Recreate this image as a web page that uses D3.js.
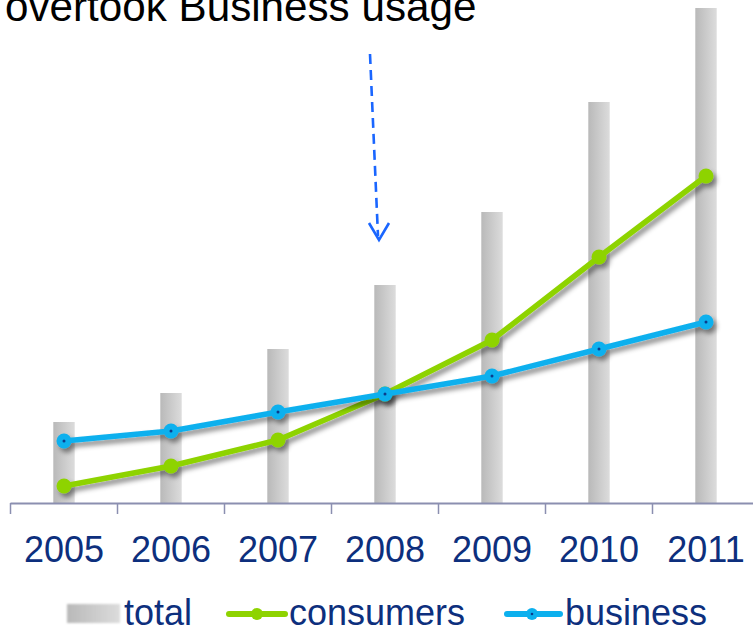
<!DOCTYPE html>
<html>
<head>
<meta charset="utf-8">
<script src="https://cdn.jsdelivr.net/npm/d3@7"></script>
<style>
  html, body { margin: 0; padding: 0; background: #fff; }
  svg { display: block; font-family: "Liberation Sans", Arial, sans-serif; }
</style>
</head>
<body>
<script>
const years = ["2005", "2006", "2007", "2008", "2009", "2010", "2011"];
const total = [81, 110, 154, 218, 291, 401, 495];
const consumers = [17, 37, 63, 109, 163, 246, 327];
const business = [62, 72, 91, 109, 127, 154, 181];
const titleText = "overtook Business usage";
const legendLabels = ["total", "consumers", "business"];

const W = 753, H = 629;
const svg = d3.select("body").append("svg").attr("width", W).attr("height", H);
const defs = svg.append("defs");

const gBar = defs.append("linearGradient").attr("id", "barGrad").attr("x1", "0%").attr("x2", "100%");
gBar.append("stop").attr("offset", "0%").attr("stop-color", "#b9b9b9");
gBar.append("stop").attr("offset", "100%").attr("stop-color", "#dcdcdc");

const shadow = defs.append("filter").attr("id", "shadow")
  .attr("x", "-10%").attr("y", "-10%").attr("width", "130%").attr("height", "140%");
shadow.append("feDropShadow").attr("dx", 3).attr("dy", 4).attr("stdDeviation", 2.5)
  .attr("flood-color", "#000").attr("flood-opacity", 0.45);

const blur = defs.append("filter").attr("id", "soft");
blur.append("feGaussianBlur").attr("stdDeviation", 1);

const x = d3.scaleBand().domain(years).range([10.5, 759.5]).paddingInner(0.8).paddingOuter(0.4);
const step = x.step();
const cx = d => x(d) + x.bandwidth() / 2;
const y = d3.scaleLinear().domain([0, 500]).range([503, 3]);

// title
svg.append("text").attr("x", 5).attr("y", 21).attr("font-size", 42.2).attr("fill", "#000").text(titleText);

// bars
svg.append("g").selectAll("rect").data(years).join("rect")
  .attr("x", d => x(d)).attr("width", x.bandwidth())
  .attr("y", (d, i) => y(total[i])).attr("height", (d, i) => y(0) - y(total[i]))
  .attr("fill", "url(#barGrad)");

// axis
const axisColor = "#8b8fb0";
const axis = svg.append("g");
axis.append("line").attr("x1", x.range()[0]).attr("x2", W).attr("y1", y(0) + 0.5).attr("y2", y(0) + 0.5)
  .attr("stroke", axisColor).attr("stroke-width", 2);
axis.selectAll("line.tick").data(years).join("line").attr("class", "tick")
  .attr("x1", d => cx(d) - step / 2).attr("x2", d => cx(d) - step / 2)
  .attr("y1", y(0)).attr("y2", y(0) + 11)
  .attr("stroke", axisColor).attr("stroke-width", 1.5);
axis.selectAll("text").data(years).join("text")
  .attr("x", d => cx(d)).attr("y", 562).attr("text-anchor", "middle")
  .attr("font-size", 36).attr("fill", "#0d2f7d").text(d => d);

// arrow annotation
const arrowColor = "#1a66ff";
svg.append("line").attr("x1", 370).attr("y1", 54).attr("x2", 378).attr("y2", 236)
  .attr("stroke", arrowColor).attr("stroke-width", 2.6).attr("stroke-dasharray", "10,6");
svg.append("path").attr("d", "M369,223 L379,240 L389,223")
  .attr("fill", "none").attr("stroke", arrowColor).attr("stroke-width", 2.6);

// lines
const green = "#8ed300", blue = "#0cb0ee";
function drawSeries(vals, color, dot) {
  const g = svg.append("g").attr("filter", "url(#shadow)");
  const line = d3.line().x((d, i) => cx(years[i])).y(d => y(d));
  g.append("path").datum(vals).attr("d", line).attr("fill", "none")
    .attr("stroke", color).attr("stroke-width", 5.5).attr("stroke-linejoin", "round");
  g.selectAll("circle").data(vals).join("circle")
    .attr("cx", (d, i) => cx(years[i])).attr("cy", d => y(d)).attr("r", 7.5).attr("fill", color);
  if (dot) {
    svg.append("g").selectAll("circle").data(vals).join("circle")
      .attr("cx", (d, i) => cx(years[i])).attr("cy", d => y(d)).attr("r", 1.5).attr("fill", "#0b3c8c");
  }
}
drawSeries(consumers, green, false);
drawSeries(business, blue, true);

// legend
const lg = svg.append("g");
const textColor = "#0d2f7d";
lg.append("rect").attr("x", 67).attr("y", 604).attr("width", 53).attr("height", 19)
  .attr("fill", "url(#barGrad)").attr("filter", "url(#soft)");
lg.append("text").attr("x", 124).attr("y", 625).attr("font-size", 36).attr("fill", textColor).text(legendLabels[0]);

lg.append("line").attr("x1", 229).attr("x2", 285).attr("y1", 614).attr("y2", 614)
  .attr("stroke", green).attr("stroke-width", 6).attr("stroke-linecap", "round");
lg.append("circle").attr("cx", 257).attr("cy", 614).attr("r", 6).attr("fill", green);
lg.append("text").attr("x", 289).attr("y", 625).attr("font-size", 36).attr("fill", textColor).text(legendLabels[1]);

lg.append("line").attr("x1", 507).attr("x2", 560).attr("y1", 614).attr("y2", 614)
  .attr("stroke", blue).attr("stroke-width", 6).attr("stroke-linecap", "round");
lg.append("circle").attr("cx", 532).attr("cy", 614).attr("r", 6).attr("fill", blue);
lg.append("circle").attr("cx", 532).attr("cy", 614).attr("r", 1.3).attr("fill", "#0b3c8c");
lg.append("text").attr("x", 565).attr("y", 625).attr("font-size", 36).attr("fill", textColor).text(legendLabels[2]);
</script>
</body>
</html>
